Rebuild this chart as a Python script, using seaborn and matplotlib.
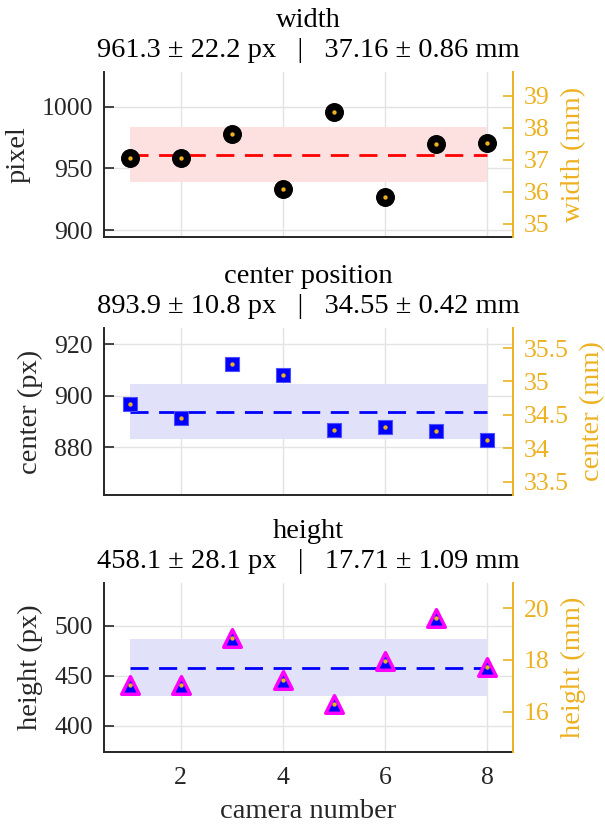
import numpy as np
import pandas as pd
import matplotlib
matplotlib.use("Agg")
import matplotlib.pyplot as plt
from matplotlib.ticker import FuncFormatter
import seaborn as sns

# ---------------- data ----------------
camera = [1, 2, 3, 4, 5, 6, 7, 8]
width_px = [958.5, 958.5, 977.6, 933.4, 995.3, 927.2, 969.5, 970.3]
center_px = [897.0, 891.4, 912.2, 907.9, 886.8, 887.7, 886.4, 882.9]
height_px = [441.0, 441.0, 488.0, 445.6, 421.3, 464.3, 507.0, 458.6]

width_stats = [961.3, 22.2, 37.16, 0.86]     # px mean, px std, mm mean, mm std
center_stats = [893.9, 10.8, 34.55, 0.42]
height_stats = [458.1, 28.1, 17.71, 1.09]

titles = ["width", "center position", "height"]
left_labels = ["pixel", "center (px)", "height (px)"]
right_labels = ["width (mm)", "center (mm)", "height (mm)"]
left_ticks = [[900, 950, 1000], [880, 900, 920], [400, 450, 500]]
right_ticks = [[35, 36, 37, 38, 39], [33.5, 34, 34.5, 35, 35.5], [16, 18, 20]]
x_ticks = [2, 4, 6, 8]

# ---------------- style ----------------
sns.set_theme(style="white")
plt.rcParams["font.family"] = ["Liberation Serif", "DejaVu Serif"]

ORANGE = "#EDB120"
DARK = "#262626"
GRID = "#E3E3E3"
TICK_FS = 18.5
LABEL_FS = 20.5

fig = plt.figure(figsize=(6.05, 8.25), dpi=100)
W, H = 605, 825
def frac(l, r, t, b):
    return [l / W, 1 - b / H, (r - l) / W, (b - t) / H]

boxes = [frac(104, 513, 72, 237), frac(104, 513, 328, 495), frac(104, 513, 583, 752)]

series = [width_px, center_px, height_px]
stats = [width_stats, center_stats, height_stats]
band_colors = ["#FDE1E1", "#E1E1FA", "#E1E1FA"]
line_colors = ["#FF0000", "#0000FF", "#0000FF"]

for i in range(3):
    ax = fig.add_axes(boxes[i])
    vals = series[i]
    m, s, mm_m, mm_s = stats[i]
    df = pd.DataFrame({"camera": camera, "value": vals})

    # band mean +/- std
    ax.fill_between([camera[0], camera[-1]], [m - s, m - s], [m + s, m + s],
                    color=band_colors[i], lw=0, zorder=1)
    # mean dashed line
    sns.lineplot(x=[camera[0], camera[-1]], y=[m, m], ax=ax, color=line_colors[i],
                 lw=2.0, zorder=3)
    ax.lines[-1].set_dashes([6.5, 3.8])

    if i == 0:
        sns.scatterplot(data=df, x="camera", y="value", ax=ax, marker="o", s=160,
                        color="black", edgecolor="black", linewidth=1, zorder=4)
    elif i == 1:
        sns.scatterplot(data=df, x="camera", y="value", ax=ax, marker="s", s=95,
                        color="#0000FF", edgecolor="#5050FF", linewidth=0.8, zorder=4)
    else:
        sns.scatterplot(data=df, x="camera", y="value", ax=ax, marker="^", s=160,
                        color="#0000FF", edgecolor="#FF00FF", linewidth=2.5, zorder=4)
    sns.scatterplot(data=df, x="camera", y="value", ax=ax, marker="o", s=10,
                    color=ORANGE, edgecolor=ORANGE, linewidth=0, zorder=5)

    ax.set_xlim(0.5, 8.5)
    ax.set_ylim(m - 3 * s, m + 3 * s)
    ax.set_xticks(x_ticks)
    ax.set_yticks(left_ticks[i])
    ax.grid(True, color=GRID, lw=1.0, zorder=0)
    ax.set_axisbelow(True)
    ax.tick_params(axis="both", direction="in", length=7, width=1.2, color=DARK,
                   labelsize=TICK_FS, labelcolor=DARK, pad=8)
    ax.tick_params(axis="x", pad=11)
    ax.tick_params(axis="y", right=False)
    if i < 2:
        ax.tick_params(axis="x", labelbottom=False)
        ax.set_xlabel("")
    else:
        ax.set_xlabel("camera number", fontsize=LABEL_FS, color=DARK, labelpad=7)
    ax.set_ylabel(left_labels[i], fontsize=LABEL_FS, color=DARK, labelpad=8)
    for side in ["top", "right"]:
        ax.spines[side].set_visible(False)
    for side in ["left", "bottom"]:
        ax.spines[side].set_color(DARK)
        ax.spines[side].set_linewidth(1.4)
    ax.set_title(f"{titles[i]}\n{m:.1f} ± {s:.1f} px   |   {mm_m:.2f} ± {mm_s:.2f} mm",
                 fontsize=LABEL_FS, color="black", pad=11, linespacing=1.25)

    ax2 = ax.twinx()
    factor = mm_m / m
    ax2.set_ylim((m - 3 * s) * factor, (m + 3 * s) * factor)
    ax2.set_yticks(right_ticks[i])
    ax2.yaxis.set_major_formatter(FuncFormatter(lambda v, p: f"{v:g}"))
    ax2.tick_params(axis="y", direction="in", length=7, width=1.2, color=ORANGE,
                    labelsize=TICK_FS, labelcolor=ORANGE, pad=8)
    ax2.set_ylabel(right_labels[i], fontsize=LABEL_FS, color=ORANGE, labelpad=8)
    for side in ["top", "left", "bottom"]:
        ax2.spines[side].set_visible(False)
    ax2.spines["right"].set_color(ORANGE)
    ax2.spines["right"].set_linewidth(1.4)
    ax2.grid(False)

fig.savefig("out.png", dpi=100)
